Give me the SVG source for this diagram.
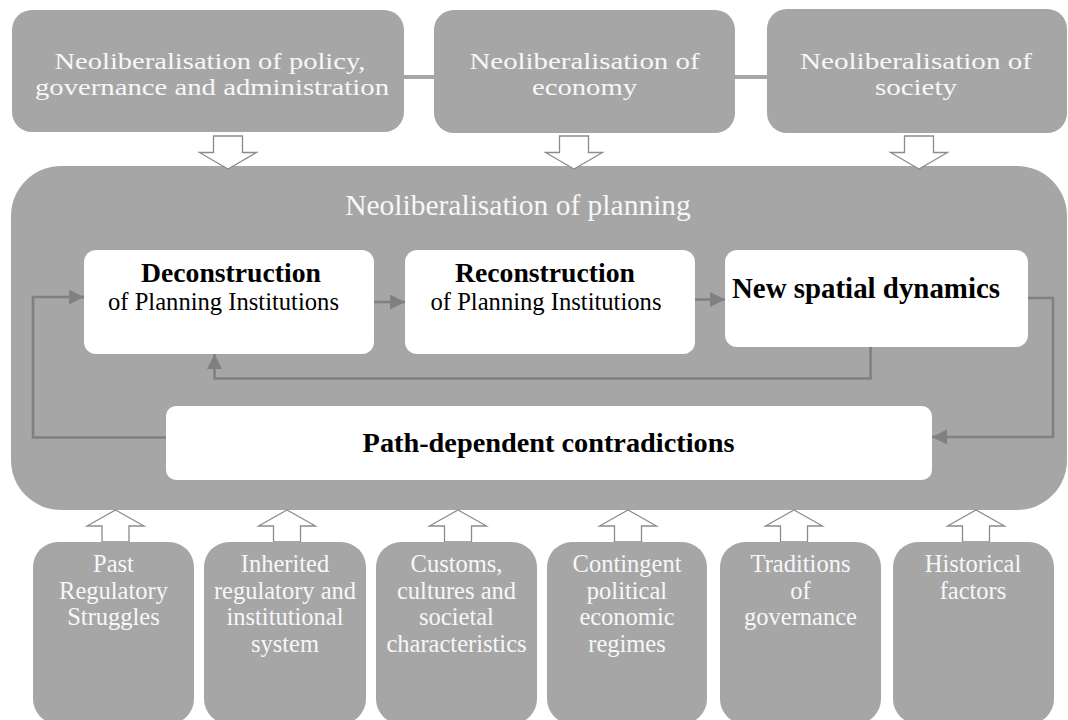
<svg xmlns="http://www.w3.org/2000/svg" width="1068" height="720" viewBox="0 0 1068 720">
<defs>
<style>
.g{fill:#a6a6a6}
.w{fill:#ffffff}
.t{font-family:"Liberation Serif","Times New Roman",serif;fill:#f7f7f7;text-anchor:middle}
.tb{font-family:"Liberation Serif","Times New Roman",serif;fill:#000000;text-anchor:middle;font-weight:bold}
.tr{font-family:"Liberation Serif","Times New Roman",serif;fill:#000000;text-anchor:middle}
.top{font-size:23.5px}
.bot{font-size:24.5px}
.hol{fill:#ffffff;stroke:#8c8c8c;stroke-width:1.3}
.con{fill:none;stroke:#808080;stroke-width:2.6}
.lnk{fill:none;stroke:#a6a6a6;stroke-width:4}
</style>
<marker id="ah" markerUnits="userSpaceOnUse" markerWidth="16" markerHeight="16" refX="15" refY="7.5" orient="auto">
<path d="M0,0 L15,7.5 L0,15 z" fill="#808080"/>
</marker>
</defs>

<g id="top-links">
<line class="lnk" x1="402" y1="77" x2="436" y2="77"/>
<line class="lnk" x1="733" y1="77" x2="769" y2="77"/>
</g>

<g id="n-policy">
<rect class="g" x="12" y="10" width="392" height="122" rx="20"/>
<text class="t top" x="210" y="69" textLength="311" lengthAdjust="spacingAndGlyphs">Neoliberalisation of policy,</text>
<text class="t top" x="212" y="95" textLength="354" lengthAdjust="spacingAndGlyphs">governance and administration</text>
</g>
<g id="n-economy">
<rect class="g" x="434" y="10" width="301" height="123" rx="20"/>
<text class="t top" x="584.5" y="69" textLength="230" lengthAdjust="spacingAndGlyphs">Neoliberalisation of</text>
<text class="t top" x="584.5" y="95" textLength="105" lengthAdjust="spacingAndGlyphs">economy</text>
</g>
<g id="n-society">
<rect class="g" x="767" y="9" width="300" height="124" rx="20"/>
<text class="t top" x="916" y="69" textLength="232" lengthAdjust="spacingAndGlyphs">Neoliberalisation of</text>
<text class="t top" x="916" y="95" textLength="82" lengthAdjust="spacingAndGlyphs">society</text>
</g>

<g id="n-planning">
<rect class="g" x="11" y="166" width="1056" height="344" rx="50"/>
<text class="t" x="518" y="214.5" style="font-size:29.5px">Neoliberalisation of planning</text>
</g>

<g id="top-arrows">
<path class="hol" d="M213.5,136 H242.5 V152.5 H256.5 L228,169 L199.5,152.5 H213.5 Z"/>
<path class="hol" d="M559.5,136 H588.5 V152.5 H602.5 L574,169 L545.5,152.5 H559.5 Z"/>
<path class="hol" d="M904.5,136 H933.5 V152.5 H947.5 L919,169 L890.5,152.5 H904.5 Z"/>
</g>

<g id="n-deconstruction">
<rect class="w" x="84" y="250" width="290" height="104" rx="12"/>
<text class="tb" x="231" y="281.5" style="font-size:27.7px">Deconstruction</text>
<text class="tr" x="223.5" y="310" style="font-size:24.6px">of Planning Institutions</text>
</g>
<g id="n-reconstruction">
<rect class="w" x="405" y="250" width="290" height="104" rx="12"/>
<text class="tb" x="545" y="281.5" style="font-size:27.7px">Reconstruction</text>
<text class="tr" x="546" y="310" style="font-size:24.6px">of Planning Institutions</text>
</g>
<g id="n-spatial">
<rect class="w" x="725" y="250" width="303" height="97" rx="12"/>
<text class="tb" x="866" y="298" style="font-size:28.9px">New spatial dynamics</text>
</g>
<g id="n-path">
<rect class="w" x="166" y="406" width="766" height="74" rx="10"/>
<text class="tb" x="548.5" y="452" style="font-size:28.3px">Path-dependent contradictions</text>
</g>

<g id="connectors">
<path class="con" d="M374,302 H405" marker-end="url(#ah)"/>
<path class="con" d="M695,299.5 H725" marker-end="url(#ah)"/>
<path class="con" d="M1028,298 H1053 V437 H932" marker-end="url(#ah)"/>
<path class="con" d="M870.5,347 V378.5 H214.5 V354" marker-end="url(#ah)"/>
<path class="con" d="M166,437.5 H33 V297 H84" marker-end="url(#ah)"/>
</g>

<g id="bottom-arrows">
<path class="hol" d="M102,542 V526 H87 L115.5,510 L144,526 H129 V542 Z"/>
<path class="hol" d="M273.5,542 V526 H258.5 L287,510 L315.5,526 H300.5 V542 Z"/>
<path class="hol" d="M444.5,542 V526 H429.5 L458,510 L486.5,526 H471.5 V542 Z"/>
<path class="hol" d="M614.5,542 V526 H599.5 L628,510 L656.5,526 H641.5 V542 Z"/>
<path class="hol" d="M780.5,542 V526 H765.5 L794,510 L822.5,526 H807.5 V542 Z"/>
<path class="hol" d="M962.5,542 V526 H947.5 L976,510 L1004.5,526 H989.5 V542 Z"/>
</g>

<g id="n-past">
<rect class="g" x="33" y="542" width="161" height="182" rx="25"/>
<text class="t bot" x="113.5" y="572">Past</text>
<text class="t bot" x="113.5" y="598.5">Regulatory</text>
<text class="t bot" x="113.5" y="625">Struggles</text>
</g>
<g id="n-inherited">
<rect class="g" x="204" y="542" width="162" height="182" rx="25"/>
<text class="t bot" x="285" y="572">Inherited</text>
<text class="t bot" x="285" y="598.5">regulatory and</text>
<text class="t bot" x="285" y="625">institutional</text>
<text class="t bot" x="285" y="651.5">system</text>
</g>
<g id="n-customs">
<rect class="g" x="376" y="542" width="161" height="182" rx="25"/>
<text class="t bot" x="456.5" y="572">Customs,</text>
<text class="t bot" x="456.5" y="598.5">cultures and</text>
<text class="t bot" x="456.5" y="625">societal</text>
<text class="t bot" x="456.5" y="651.5">characteristics</text>
</g>
<g id="n-contingent">
<rect class="g" x="547" y="542" width="160" height="182" rx="25"/>
<text class="t bot" x="627" y="572">Contingent</text>
<text class="t bot" x="627" y="598.5">political</text>
<text class="t bot" x="627" y="625">economic</text>
<text class="t bot" x="627" y="651.5">regimes</text>
</g>
<g id="n-traditions">
<rect class="g" x="720" y="542" width="161" height="182" rx="25"/>
<text class="t bot" x="800.5" y="572">Traditions</text>
<text class="t bot" x="800.5" y="598.5">of</text>
<text class="t bot" x="800.5" y="625">governance</text>
</g>
<g id="n-historical">
<rect class="g" x="893" y="542" width="161" height="182" rx="25"/>
<text class="t bot" x="973" y="572">Historical</text>
<text class="t bot" x="973" y="598.5">factors</text>
</g>
</svg>
